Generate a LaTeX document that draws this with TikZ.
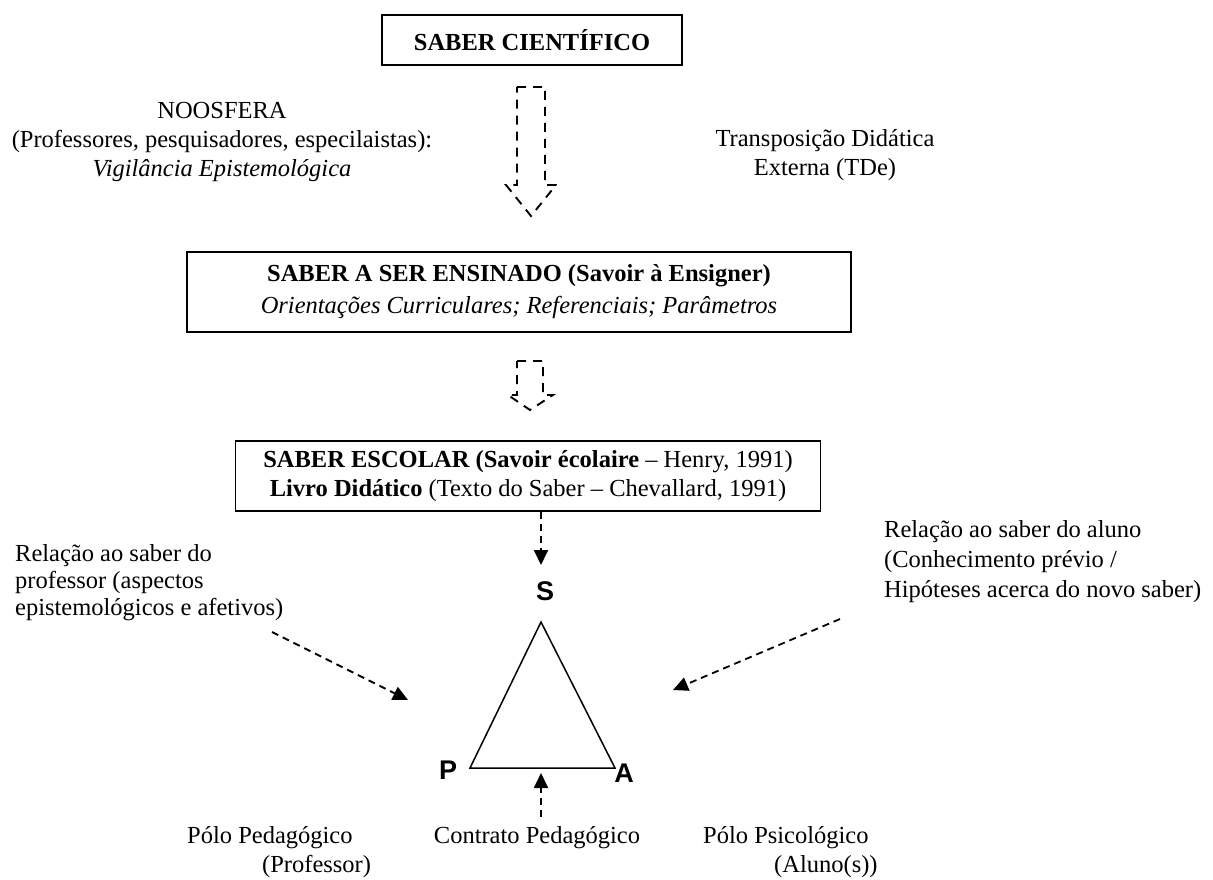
\documentclass[tikz,border=0pt]{standalone}
\usepackage{fontspec}
\setmainfont{Liberation Serif}
\newfontfamily\arialfont{Liberation Sans}
\usepackage{tikz}
\usetikzlibrary{positioning,arrows.meta}

\tikzset{
    caixa/.style={draw, line width=1.8pt, align=center, inner sep=0pt},
    texto/.style={align=center, inner sep=0pt},
    polo/.style={font=\arialfont\bfseries\fontsize{27}{30}\selectfont, inner sep=0pt},
    seta/.style={-{Triangle[length=15pt,width=14pt]}, line width=1.8pt, dash pattern=on 7pt off 5pt},
    oca/.style={line width=1.9pt, dash pattern=on 9pt off 7pt, line join=miter}
}

\begin{document}
\begin{tikzpicture}[x=1pt, y=-1pt, font=\fontsize{24.5}{29}\selectfont]
        \path[use as bounding box] (0,0) rectangle (1213,880);

        % caixas
        \node (cientifico) [caixa, minimum width=300pt, minimum height=50pt] at (532,40) {\bfseries SABER CIENTÍFICO};
        \node (ensinado) [caixa, minimum width=664pt, minimum height=80pt] at (519,292)
            {\bfseries SABER A SER ENSINADO (Savoir à Ensigner)\\[3pt]\itshape Orientações Curriculares; Referenciais; Parâmetros};
        \node (escolar) [caixa, minimum width=585pt, minimum height=70pt] at (528,476)
            {\textbf{SABER ESCOLAR (Savoir écolaire} – Henry, 1991)\\\textbf{Livro Didático} (Texto do Saber – Chevallard, 1991)};

        % textos laterais
        \node (noosfera) [texto] at (222,142) {NOOSFERA\\(Professores, pesquisadores, especilaistas):\\\textit{Vigilância Epistemológica}};
        \node (tde) [texto] at (825,155) {Transposição Didática\\Externa (TDe)};
        \node (relprof) [texto, anchor=west, align=left, font=\fontsize{24.5}{27}\selectfont] at (15,583)
            {Relação ao saber do\\professor (aspectos\\epistemológicos e afetivos)};
        \node (relaluno) [texto, anchor=west, align=left, font=\fontsize{24.5}{30}\selectfont] at (884,562)
            {Relação ao saber do aluno\\(Conhecimento prévio /\\Hipóteses acerca do novo saber)};

        % triangulo
        \node (S) [polo] at (545,591) {S};
        \node (P) [polo] at (448,770) {P};
        \node (A) [polo] at (624,773) {A};
        \coordinate (vS) at (541,622);
        \coordinate (vP) at (470,768);
        \coordinate (vA) at (615,768);
        \draw[line width=1.5pt] (vS) -- (vP) -- (vA) -- cycle;

        \node (pedagogico) [texto, anchor=west, align=left] at (187,852) {Pólo Pedagógico\\\hspace*{75pt}(Professor)};
        \node (contrato) [texto] at (537,838) {Contrato Pedagógico};
        \node (psicologico) [texto, anchor=west, align=left] at (703,852) {Pólo Psicológico\\\hspace*{71pt}(Aluno(s))};

        % setas ocas
        \draw[oca] (517,87) -- (545,87) -- (545,185) -- (556,185) -- (531,216) -- (506,185) -- (517,185) -- cycle;
        \draw[oca] (517,361) -- (543,361) -- (543,395) -- (553,395) -- (530,410) -- (508,395) -- (517,395) -- cycle;

        % setas tracejadas
        \coordinate (pontaS) at (541,565);
        \coordinate (pontaC) at (541,773);
        \coordinate (pontaP) at (408,700);
        \coordinate (pontaA) at (673,690);
        \coordinate (baseP) at (272,632);
        \coordinate (baseA) at (840,619);
        \draw[seta] (escolar.south -| pontaS) -- (pontaS);
        \draw[seta] (contrato.north -| pontaC) ++(0,-10) -- (pontaC);
        \draw[seta] (baseP) -- (pontaP);
        \draw[seta] (baseA) -- (pontaA);
    \end{tikzpicture}
\end{document}
